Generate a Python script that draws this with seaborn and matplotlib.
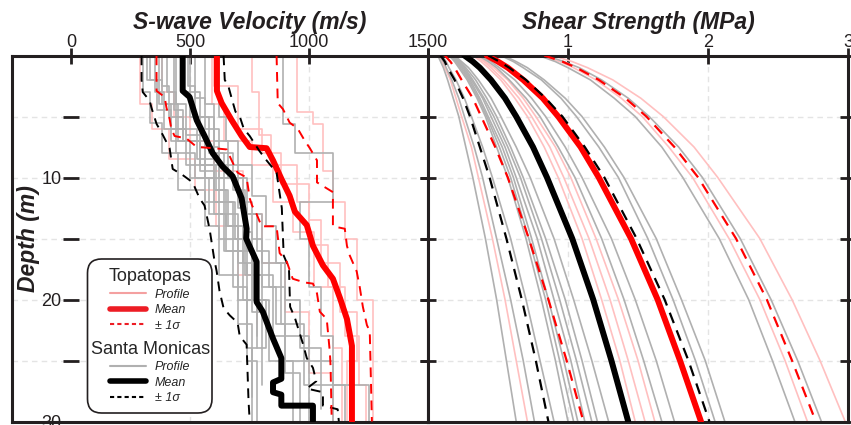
import numpy as np
import matplotlib
matplotlib.use("Agg")
import matplotlib.pyplot as plt
import seaborn as sns
from matplotlib.lines import Line2D
from matplotlib.patches import FancyBboxPatch

sns.set_theme(style="white")
plt.rcParams["font.family"] = ["Liberation Sans", "DejaVu Sans"]

INK = "#231f20"
PINK = "#ffc0c0"
GRAY = "#b0b0b0"
RED = "#ff0000"

# ---------------- S-wave velocity profiles (layer bottom depth m, Vs m/s) ----------------
topa_bottoms = [
    [4, 6, 8.5, 11, 14, 18, 22],
    [3, 5, 7, 9.5, 13, 17, 21, 26, 30],
    [4, 7, 9, 12, 14.5, 19, 24, 30],
    [2.5, 6, 8, 10.5, 13.5, 17, 21, 25, 30],
    [3, 6.5, 9, 12, 15.5, 19, 23, 27, 30],
    [4.6, 5.6, 9.5, 12, 15, 20, 30],
]
topa_vs = [
    [290, 340, 410, 520, 610, 700, 780],
    [380, 430, 500, 600, 720, 800, 900, 1000, 1100],
    [590, 640, 760, 850, 930, 1020, 1100, 1140],
    [600, 700, 800, 880, 1000, 1050, 1130, 1200, 1160],
    [760, 790, 840, 950, 1000, 1080, 1150, 1210, 1240],
    [948, 1016, 1060, 1100, 1150, 1200, 1268],
]
smon_bottoms = [
    [3, 5.5, 8, 11, 14, 18, 22, 26],
    [2, 4.5, 7, 10, 13, 16, 20, 25, 30],
    [4, 6, 9, 12, 15, 19, 24, 30],
    [3, 6, 8.5, 11, 14, 17, 21, 27],
    [4.5, 7, 10, 13, 16, 20, 24, 28],
    [3, 5, 7.5, 10, 12.5, 16, 20, 25, 30],
    [2.5, 5, 8, 11, 14.5, 18, 23, 30],
    [3.5, 6, 9, 12, 15, 19, 25, 30],
    [4, 7, 10, 13, 17, 22, 27, 30],
    [5.6, 8, 12, 15, 19, 23, 27, 30],
    [2, 4, 7, 9.5, 12, 15, 18],
    [3, 6, 8, 10, 13, 16, 20, 24],
    [4, 6.5, 9, 12, 15, 18, 21],
    [5, 7, 9, 11.5, 14, 17, 20, 24, 29],
    [3, 5, 8, 10, 13, 16, 19, 22, 26, 30],
    [2.5, 5, 7, 9, 11, 14, 17, 20, 23],
]
smon_vs = [
    [300, 330, 380, 450, 560, 620, 700, 760],
    [330, 360, 420, 500, 580, 640, 700, 740, 780],
    [370, 420, 480, 560, 620, 680, 740, 760],
    [400, 440, 530, 600, 650, 720, 760, 800],
    [430, 470, 560, 640, 700, 760, 820, 760],
    [460, 500, 540, 620, 700, 740, 770, 830, 930],
    [490, 520, 600, 680, 730, 760, 850, 1000],
    [520, 560, 620, 700, 760, 800, 900, 1100],
    [560, 600, 660, 740, 800, 880, 980, 1250],
    [890, 940, 1100, 960, 1000, 1050, 1100, 1150],
    [320, 380, 450, 540, 600, 680, 740],
    [350, 390, 440, 520, 600, 650, 720, 780],
    [440, 480, 560, 620, 690, 730, 800],
    [620, 650, 700, 760, 820, 860, 900, 960, 1050],
    [500, 540, 580, 640, 720, 780, 830, 860, 900, 960],
    [380, 410, 470, 540, 610, 660, 700, 740, 780],
]

# mean and +/- 1 sigma velocity curves
topa_mean_d = [0, 2.9, 3.9, 5.3, 6.6, 7.5, 7.6, 8.6, 9.8, 10.1, 11.5, 12.8, 13.9, 15.6, 17.2, 18.3, 19.9, 21.6, 23.8, 30]
topa_mean_v = [612, 612, 632, 674, 716, 750, 821, 848, 876, 883, 918, 940, 990, 1016, 1058, 1100, 1130, 1159, 1180, 1180]
topa_lo_d = [0, 2.9, 3.4, 4.3, 5.2, 6.0, 6.6, 6.8, 7.5, 7.6, 7.7, 8.6, 9.6, 10, 11.7, 12.3, 13, 14, 14, 16.2, 16.9, 18.3,
             18.6, 18.7, 19.5, 21, 21.6, 24.3, 25.4, 30]
topa_lo_v = [358, 358, 392, 400, 413, 420, 434, 484, 527, 600, 653, 674, 699, 737, 750, 760, 779, 800, 863, 876, 906, 931,
             980, 1016, 1033, 1045, 1074, 1087, 1090, 1095]
topa_hi_d = [0, 3.9, 4.4, 5.5, 6.0, 7.0, 7.6, 8.6, 10.4, 11.2, 14, 14.2, 15.6, 16.4, 17.7, 19, 20.6, 22.1, 22.6, 30]
topa_hi_v = [863, 868, 890, 918, 952, 982, 1003, 1033, 1033, 1100, 1100, 1150, 1159, 1171, 1200, 1213, 1226, 1243, 1255, 1264]
smon_mean_d = [0, 2.9, 3.4, 5.3, 6.6, 8.0, 9.1, 9.9, 11.7, 14.2, 15.0, 16.9, 20.2, 21.0, 23.2, 24.8, 26.5, 26.8, 27.6, 27.8,
               28.7, 28.7, 30]
smon_mean_v = [468, 468, 497, 527, 560, 594, 636, 678, 716, 737, 735, 779, 779, 805, 848, 883, 883, 848, 848, 883, 883,
               1016, 1016]
smon_lo_d = [0, 2, 3, 3.7, 4.3, 5.6, 6.5, 7.6, 9.3, 9.8, 10.4, 11.7, 12.3, 14.2, 16.6, 17.7, 19.3, 20.7, 21.3, 21.9, 23,
             23.7, 28.3, 30]
smon_lo_v = [295, 295, 300, 329, 337, 358, 384, 413, 426, 468, 510, 539, 560, 581, 600, 611, 623, 640, 666, 699, 708,
             737, 745, 750]
smon_hi_d = [0, 2, 2.5, 3.5, 4.6, 5, 6, 6.6, 7.8, 8.6, 9.6, 12.5, 16.4, 17.4, 20.6, 21.5, 23.7, 24.8, 25.6, 26.7, 27.3,
             27.6, 28.7, 29, 30]
smon_hi_v = [640, 645, 660, 674, 690, 708, 725, 750, 790, 821, 863, 885, 893, 915, 920, 940, 975, 990, 1016, 1030, 990,
             1058, 1058, 1120, 1125]

# ---------------- Shear strength curves (MPa) ----------------
tau_depth = [0, 0.5, 1, 2, 3.5, 5, 7.5, 10, 15, 20, 25, 30]
topa_tau = [
    [0.08, 0.10, 0.12, 0.16, 0.20, 0.24, 0.31, 0.36, 0.46, 0.55, 0.63, 0.71],
    [0.32, 0.38, 0.43, 0.52, 0.62, 0.71, 0.83, 0.93, 1.10, 1.24, 1.37, 1.48],
    [0.33, 0.40, 0.45, 0.54, 0.65, 0.74, 0.87, 0.97, 1.15, 1.30, 1.43, 1.55],
    [0.35, 0.41, 0.47, 0.57, 0.68, 0.77, 0.91, 1.02, 1.20, 1.36, 1.50, 1.62],
    [0.81, 0.94, 1.04, 1.20, 1.38, 1.53, 1.72, 1.89, 2.15, 2.37, 2.55, 2.71],
    [0.89, 1.03, 1.14, 1.32, 1.52, 1.68, 1.90, 2.07, 2.37, 2.60, 2.80, 2.98],
]
smon_tau = [
    [0.07, 0.09, 0.11, 0.14, 0.18, 0.22, 0.27, 0.32, 0.41, 0.49, 0.56, 0.63],
    [0.08, 0.11, 0.13, 0.17, 0.22, 0.26, 0.33, 0.39, 0.49, 0.59, 0.68, 0.76],
    [0.10, 0.13, 0.15, 0.20, 0.26, 0.31, 0.39, 0.46, 0.59, 0.70, 0.80, 0.90],
    [0.15, 0.19, 0.22, 0.28, 0.35, 0.41, 0.49, 0.57, 0.70, 0.81, 0.91, 1.00],
    [0.16, 0.20, 0.23, 0.29, 0.36, 0.42, 0.51, 0.59, 0.72, 0.84, 0.94, 1.04],
    [0.16, 0.20, 0.24, 0.30, 0.37, 0.43, 0.53, 0.61, 0.74, 0.86, 0.97, 1.07],
    [0.17, 0.21, 0.25, 0.31, 0.39, 0.45, 0.55, 0.63, 0.78, 0.90, 1.02, 1.12],
    [0.18, 0.22, 0.26, 0.32, 0.40, 0.47, 0.57, 0.66, 0.81, 0.94, 1.06, 1.17],
    [0.18, 0.23, 0.27, 0.34, 0.42, 0.49, 0.59, 0.68, 0.84, 0.98, 1.10, 1.21],
    [0.19, 0.24, 0.29, 0.36, 0.45, 0.52, 0.63, 0.73, 0.90, 1.04, 1.17, 1.29],
    [0.36, 0.43, 0.49, 0.58, 0.70, 0.80, 0.93, 1.05, 1.24, 1.40, 1.54, 1.67],
    [0.37, 0.45, 0.51, 0.62, 0.74, 0.84, 0.98, 1.10, 1.31, 1.48, 1.63, 1.76],
    [0.52, 0.61, 0.68, 0.81, 0.95, 1.06, 1.22, 1.36, 1.57, 1.75, 1.91, 2.05],
    [0.54, 0.63, 0.71, 0.83, 0.98, 1.10, 1.26, 1.40, 1.63, 1.81, 1.98, 2.12],
    [0.79, 0.91, 1.00, 1.16, 1.33, 1.48, 1.67, 1.82, 2.08, 2.29, 2.46, 2.62],
    [0.84, 0.97, 1.08, 1.24, 1.43, 1.58, 1.79, 1.96, 2.23, 2.45, 2.64, 2.81],
]
topa_mean_tau = [0.42, 0.50, 0.57, 0.68, 0.82, 0.93, 1.09, 1.22, 1.45, 1.64, 1.80, 1.95]
topa_hi_tau = [0.83, 0.96, 1.06, 1.22, 1.41, 1.56, 1.76, 1.93, 2.20, 2.42, 2.60, 2.77]
topa_lo_tau = [0.12, 0.16, 0.19, 0.24, 0.32, 0.38, 0.48, 0.57, 0.72, 0.86, 0.99, 1.11]
smon_mean_tau = [0.26, 0.32, 0.37, 0.45, 0.55, 0.63, 0.75, 0.85, 1.03, 1.18, 1.31, 1.43]
smon_hi_tau = [0.43, 0.51, 0.58, 0.70, 0.84, 0.96, 1.12, 1.26, 1.49, 1.69, 1.86, 2.01]
smon_lo_tau = [0.09, 0.12, 0.14, 0.19, 0.25, 0.30, 0.37, 0.44, 0.56, 0.67, 0.77, 0.86]

vel_ticks = [0, 500, 1000, 1500]
tau_ticks = [0, 1, 2, 3]
depth_ticks = [0, 5, 10, 15, 20, 25, 30]
depth_labels = ["", "", "10", "", "20", "", "30"]

DASH = (0, (5, 3.5))


def layered(bottoms, vs):
    tops = [0] + list(bottoms[:-1])
    d = np.column_stack([tops, bottoms]).ravel()
    v = np.repeat(vs, 2)
    return v, d


def line(ax, x, y, **kw):
    sns.lineplot(x=np.asarray(x, float), y=np.asarray(y, float), ax=ax, sort=False,
                 estimator=None, legend=False, **kw)


fig = plt.figure(figsize=(8.51, 4.25), dpi=100)
ax1 = fig.add_axes([12 / 851, 3.5 / 425, 416 / 851, 366 / 425])
ax2 = fig.add_axes([428 / 851, 3.5 / 425, 420 / 851, 366 / 425])

# ---- left panel: velocity ----
for b, v in zip(topa_bottoms, topa_vs):
    x, y = layered(b, v)
    line(ax1, x, y, color=PINK, lw=1.2, zorder=2)
for b, v in zip(smon_bottoms, smon_vs):
    x, y = layered(b, v)
    line(ax1, x, y, color=GRAY, lw=1.2, zorder=2)
line(ax1, smon_mean_v, smon_mean_d, color="black", lw=4.3, zorder=3)
line(ax1, topa_mean_v, topa_mean_d, color=RED, lw=4.3, zorder=3)
line(ax1, smon_lo_v, smon_lo_d, color="black", lw=1.4, linestyle=DASH, zorder=4)
line(ax1, smon_hi_v, smon_hi_d, color="black", lw=1.4, linestyle=DASH, zorder=4)
line(ax1, topa_lo_v, topa_lo_d, color=RED, lw=1.4, linestyle=DASH, zorder=4)
line(ax1, topa_hi_v, topa_hi_d, color=RED, lw=1.4, linestyle=DASH, zorder=4)

# ---- right panel: shear strength ----
for t in topa_tau:
    line(ax2, t, tau_depth, color=PINK, lw=1.2, zorder=2)
for t in smon_tau:
    line(ax2, t, tau_depth, color=GRAY, lw=1.2, zorder=2)
line(ax2, smon_mean_tau, tau_depth, color="black", lw=4.3, zorder=3)
line(ax2, topa_mean_tau, tau_depth, color=RED, lw=4.3, zorder=3)
for t, c in [(smon_lo_tau, "black"), (smon_hi_tau, "black"), (topa_lo_tau, RED), (topa_hi_tau, RED)]:
    line(ax2, t, tau_depth, color=c, lw=1.6, linestyle=DASH, zorder=4)

# ---- legend box ----
box = FancyBboxPatch((0.875, 0.12), 1.245, 1.54, boxstyle="round,pad=0,rounding_size=0.14",
                     transform=fig.dpi_scale_trans, facecolor="white", edgecolor=INK, lw=1.2, zorder=6)
ax1.add_patch(box)
leg_kw = dict(loc="upper center", frameon=False, prop={"style": "italic", "size": 9}, title_fontsize=13,
              handlelength=2.9, handletextpad=0.7, labelspacing=0.28, borderpad=0, borderaxespad=0)
leg1 = ax1.legend(handles=[Line2D([], [], color="#f4a0a0", lw=1.5),
                           Line2D([], [], color="#ed1c24", lw=4),
                           Line2D([], [], color="#ed1c24", lw=1.5, ls=(0, (2, 1.5)))],
                  labels=["Profile", "Mean", "± 1σ"], title="Topatopas",
                  bbox_to_anchor=(0.332, 0.419), **leg_kw)
leg1.set_zorder(7)
ax1.add_artist(leg1)
leg2 = ax1.legend(handles=[Line2D([], [], color=GRAY, lw=1.5),
                           Line2D([], [], color="black", lw=4),
                           Line2D([], [], color="black", lw=1.5, ls=(0, (2, 1.5)))],
                  labels=["Profile", "Mean", "± 1σ"], title="Santa Monicas",
                  bbox_to_anchor=(0.332, 0.221), **leg_kw)
leg2.set_zorder(7)

# ---- axes styling ----
for ax, xt, xl in [(ax1, vel_ticks, ["0", "500", "1000", "1500"]), (ax2, tau_ticks, ["", "1", "2", "3"])]:
    ax.set_ylim(30, 0)
    ax.xaxis.tick_top()
    ax.set_xticks(xt)
    ax.set_xticklabels(xl)
    ax.set_yticks(depth_ticks)
    ax.set_xlabel("")
    ax.set_ylabel("")
    for s in ax.spines.values():
        s.set_linewidth(2.2)
        s.set_color(INK)
    ax.tick_params(axis="both", direction="inout", length=12, width=2, color=INK, labelsize=13,
                   labelcolor=INK)
    ax.tick_params(axis="x", top=True, bottom=False, labeltop=True, labelbottom=False, pad=-3)
    ax.tick_params(axis="y", left=True, right=True, pad=1)
    for gy in depth_ticks[1:-1]:
        ax.axhline(gy, color="#e4e4e4", lw=1, ls=(0, (4, 3)), zorder=0)
    for gx in xt[1:-1]:
        ax.axvline(gx, color="#e4e4e4", lw=1, ls=(0, (4, 3)), zorder=0)

ax1.set_xlim(-250, 1500)
ax2.set_xlim(0, 3)
ax1.set_yticklabels(depth_labels)
ax2.set_yticklabels([])
ax1.spines["left"].set_position(("data", 0))
ax1.spines["left"].set_visible(False)
ax1.plot([0, 0], [0, 1], transform=ax1.transAxes, color=INK, lw=2.2, clip_on=False, zorder=8,
         solid_capstyle="projecting")

ax1.text(750, 1.09, "S-wave Velocity (m/s)", transform=ax1.get_xaxis_transform(), ha="center", va="center",
         fontsize=16.5, fontweight="bold", fontstyle="italic", color=INK)
ax2.text(0.5, 1.09, "Shear Strength (MPa)", transform=ax2.transAxes, ha="center", va="center",
         fontsize=16.5, fontweight="bold", fontstyle="italic", color=INK)
ax1.text(0.04, 0.5, "Depth (m)", transform=ax1.transAxes, rotation=90, ha="center", va="center",
         fontsize=16.5, fontweight="bold", fontstyle="italic", color=INK)

fig.savefig("out.png", dpi=100)
